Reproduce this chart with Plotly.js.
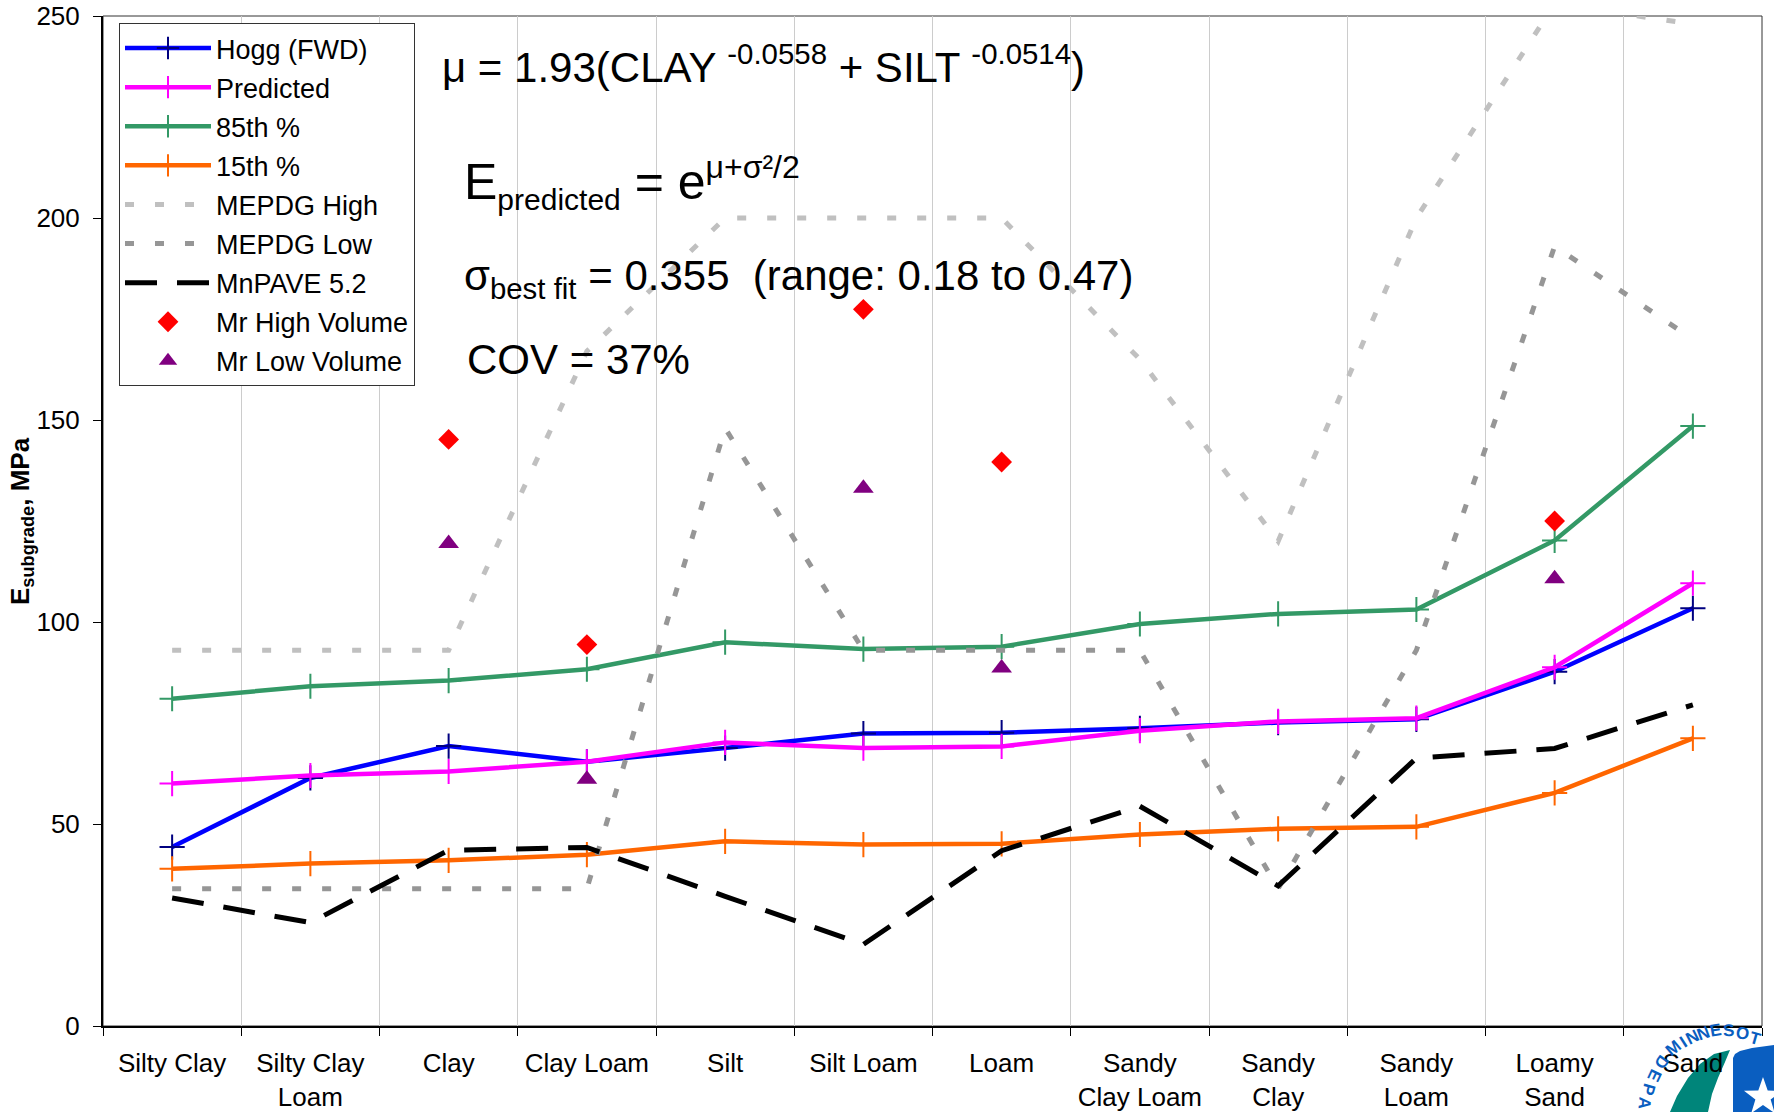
<!DOCTYPE html>
<html><head><meta charset="utf-8">
<script src="https://cdn.plot.ly/plotly-3.0.1.min.js"></script>
<style>html,body{margin:0;padding:0;background:#fff;} #chart{width:1774px;height:1112px;}</style>
</head><body><div id="chart"></div>
<script>
// ---- data ----
const categories = ["Silty Clay","Silty Clay<br>Loam","Clay","Clay Loam","Silt","Silt Loam","Loam","Sandy<br>Clay Loam","Sandy<br>Clay","Sandy<br>Loam","Loamy<br>Sand","Sand"];
const hogg      = [44.3, 61.4, 69.3, 65.4, 68.8, 72.4, 72.6, 73.7, 75.1, 75.9, 87.7, 103.4];
const predicted = [60.0, 62.0, 63.0, 65.4, 70.2, 68.8, 69.2, 73.1, 75.4, 76.2, 88.8, 109.6];
const p85       = [81.0, 84.1, 85.5, 88.3, 95.0, 93.3, 93.9, 99.5, 102.0, 103.1, 120.2, 148.5];
const p15       = [38.9, 40.2, 41.0, 42.4, 45.7, 44.9, 45.1, 47.4, 48.8, 49.3, 57.7, 71.2];
const mepdgHigh = [93, 93, 93, 167, 200, 200, 200, 165, 120, 200, 253, 248];
const mepdgLow  = [34, 34, 34, 34, 148, 93, 93, 93, 34, 93, 193, 170];
const mnpave    = [31.7, 25.6, 43.5, 44.2, 32.1, 20.2, 43.4, 54.4, 34.7, 66.3, 68.7, 79.5];
const mrHigh    = [null, null, 145.2, 94.4, null, 177.4, 139.6, null, null, null, 125.0, null];
const mrLow     = [null, null, 119.4, 61.1, null, 133.1, 88.6, null, null, null, 110.7, null];
const seriesNames = ["Hogg (FWD)","Predicted","85th %","15th %","MEPDG High","MEPDG Low","MnPAVE 5.2","Mr High Volume","Mr Low Volume"];
const yTicks = [0, 50, 100, 150, 200, 250];
const yTitle = "<b>E<sub>subgrade</sub>, MPa</b>";

// ---- geometry helpers (pixel -> paper) ----
const L = 103, R = 1762, T = 16, B = 1026;
const fx = x => (x - L) / (R - L);
const fy = y => (B - y) / (B - T);
const FONT = "Liberation Sans, Arial, sans-serif";

function lineTrace(name, y, color, mcolor) {
  return {x: categories, y: y, name: name, type: "scatter", mode: "lines+markers",
    line: {color: color, width: 4.5},
    marker: {symbol: "cross-thin", size: 18, color: mcolor, line: {color: mcolor, width: 2}}};
}
const traces = [
  lineTrace(seriesNames[0], hogg, "#0000FF", "#000080"),
  lineTrace(seriesNames[1], predicted, "#FF00FF", "#FF00FF"),
  lineTrace(seriesNames[2], p85, "#339966", "#339966"),
  lineTrace(seriesNames[3], p15, "#FF6600", "#FF6600"),
  {x: categories, y: mepdgHigh, name: seriesNames[4], type: "scatter", mode: "lines",
    line: {color: "#C0C0C0", width: 5, dash: "9px,21px"}},
  {x: categories, y: mepdgLow, name: seriesNames[5], type: "scatter", mode: "lines",
    line: {color: "#969696", width: 5, dash: "9px,21px"}},
  {x: categories, y: mnpave, name: seriesNames[6], type: "scatter", mode: "lines",
    line: {color: "#000000", width: 5, dash: "32px,20px"}},
  {x: categories, y: mrHigh, name: seriesNames[7], type: "scatter", mode: "markers",
    marker: {symbol: "diamond", size: 16, color: "#FF0000"}},
  {x: categories, y: mrLow, name: seriesNames[8], type: "scatter", mode: "markers",
    marker: {symbol: "triangle-up", size: 18, color: "#800080"}}
];
traces.forEach((t, i) => { t.legendgroup = "g" + i; });

// ---- MnDOT logo pieces (decorative) ----
function pth(pts) { return pts.map((p, i) => (i ? "L" : "M") + fx(p[0]).toFixed(5) + "," + fy(p[1]).toFixed(5)).join(" ") + " Z"; }
const blue = [[1733,1112],[1733,1058],[1735,1054],[1740,1051],[1752,1048],[1774,1045],[1774,1112]];
const teal = [[1670,1112],[1677,1096],[1688,1078],[1700,1064],[1714,1054],[1730,1050],[1725,1062],[1718,1078],[1712,1094],[1708,1112]];
const star = [];
for (let k = 0; k < 10; k++) {
  const a = -Math.PI / 2 + k * Math.PI / 5, r = (k % 2 === 0) ? 20 : 8;
  star.push([1763 + r * Math.cos(a), 1097 + r * Math.sin(a)]);
}
const shapes = [
  {type: "rect", xref: "paper", yref: "paper", x0: 0, x1: 1, y0: 0, y1: 1, line: {color: "#333333", width: 1}, layer: "below"},
  {type: "path", xref: "paper", yref: "paper", path: pth(blue), fillcolor: "#0A5EC0", line: {width: 0}, layer: "below"},
  {type: "path", xref: "paper", yref: "paper", path: pth(teal), fillcolor: "#00857A", line: {width: 0}, layer: "below"},
  {type: "path", xref: "paper", yref: "paper", path: pth(star), fillcolor: "#FFFFFF", line: {width: 0}, layer: "below"}
];
const logoLetters = [
  ["M",1673,1048,-40],["I",1683,1042,-33],["N",1692,1037,-27],["N",1703,1033,-20],["E",1715,1030,-10],
  ["S",1728,1030,-2],["O",1742,1033,8],["T",1755,1038,16],
  ["D",1662,1062,125],["E",1655,1075,115],["P",1649,1089,105],["A",1645,1103,95]
];

const annFont = {family: FONT, size: 42, color: "#000"};
const annotations = [
  {xref: "paper", yref: "paper", x: fx(21), y: fy(521), xanchor: "center", yanchor: "middle", showarrow: false,
   text: yTitle, textangle: -90, font: {family: FONT, size: 26, color: "#000"}},
  {xref: "paper", yref: "paper", x: fx(440), y: fy(64), xanchor: "left", yanchor: "middle", showarrow: false,
   text: "μ = 1.93(CLAY <sup>-0.0558</sup> + SILT <sup>-0.0514</sup>)", font: annFont},
  {xref: "paper", yref: "paper", x: fx(462), y: fy(182), xanchor: "left", yanchor: "middle", showarrow: false,
   text: "E<sub><span style='font-size:30px'>predicted</span></sub> = e<sup><span style='font-size:32px'>μ+σ²/2</span></sup>",
   font: {family: FONT, size: 50, color: "#000"}},
  {xref: "paper", yref: "paper", x: fx(462), y: fy(278), xanchor: "left", yanchor: "middle", showarrow: false,
   text: "σ<sub>best fit</sub> = 0.355  (range: 0.18 to 0.47)", font: annFont},
  {xref: "paper", yref: "paper", x: fx(465), y: fy(360), xanchor: "left", yanchor: "middle", showarrow: false,
   text: "COV = 37%", font: annFont}
];
logoLetters.forEach(l => annotations.push({xref: "paper", yref: "paper", x: fx(l[1]), y: fy(l[2]),
  xanchor: "center", yanchor: "middle", showarrow: false, text: "<b>" + l[0] + "</b>", textangle: l[3],
  font: {family: FONT, size: 17, color: "#0A5EC0"}}));

const layout = {
  width: 1774, height: 1112,
  margin: {l: L, r: 1774 - R, t: T, b: 1112 - B, pad: 0, autoexpand: false},
  paper_bgcolor: "#FFFFFF", plot_bgcolor: "#FFFFFF",
  font: {family: FONT, size: 26, color: "#000"},
  showlegend: true,
  legend: {x: fx(119), y: fy(23), xanchor: "left", yanchor: "top", bgcolor: "#FFFFFF",
    bordercolor: "#333333", borderwidth: 1, font: {family: FONT, size: 27, color: "#000"},
    itemwidth: 86, tracegroupgap: 1},
  xaxis: {type: "category", range: [-0.5, categories.length - 0.5], tickson: "boundaries",
    ticks: "outside", ticklen: 8, tickwidth: 1, tickcolor: "#000", ticklabelstandoff: 13,
    showgrid: true, gridcolor: "#CCCCCC", gridwidth: 1,
    showline: true, linecolor: "#000", linewidth: 2, zeroline: false,
    tickfont: {family: FONT, size: 26, color: "#000"}, fixedrange: true},
  yaxis: {range: [0, 250], tickvals: yTicks, ticktext: yTicks.map(String),
    ticks: "outside", ticklen: 8, tickwidth: 1, tickcolor: "#000", ticklabelstandoff: 8,
    showgrid: false, zeroline: false, showline: true, linecolor: "#000", linewidth: 2,
    tickfont: {family: FONT, size: 26, color: "#000"},
    fixedrange: true},
  shapes: shapes,
  annotations: annotations
};
Plotly.newPlot("chart", traces, layout, {displayModeBar: false, staticPlot: true});
</script>
</body></html>
